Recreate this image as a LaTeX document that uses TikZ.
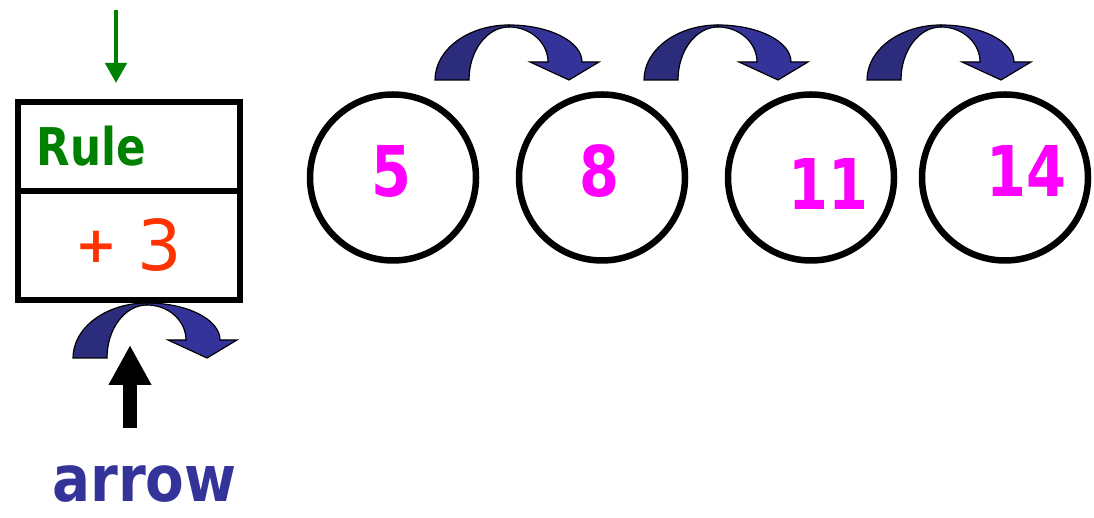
\documentclass[tikz,border=0pt]{standalone}
\usepackage{fontspec}
\setmainfont{DejaVu Sans}
\usetikzlibrary{arrows.meta,positioning}
\definecolor{rulegreen}{HTML}{008000}
\definecolor{stepred}{HTML}{FF3300}
\definecolor{termpink}{HTML}{FF00FF}
\definecolor{hopdark}{HTML}{2C2C7C}
\definecolor{hopblue}{HTML}{333399}

\tikzset{
  box/.style={draw, line width=6pt, outer sep=0pt, minimum width=222pt},
  term/.style={draw, circle, line width=6.5pt, minimum size=166pt, inner sep=0pt},
  num/.style={text=termpink, font=\fontsize{70}{74}\selectfont\bfseries, inner sep=0pt},
  hop/.pic={
    \filldraw[fill=hopdark, line width=1.2pt] (0,0)
      arc[start angle=180, end angle=90, x radius=74, y radius=55] -- (74,53)
      arc[start angle=90, end angle=180, x radius=40, y radius=53] -- cycle;
    \filldraw[fill=hopblue, line width=1.2pt] (74,55)
      arc[start angle=90, end angle=0, x radius=73, y radius=37]
      -- (164,18) -- (134,0) -- (95,18) -- (113,18)
      arc[start angle=0, end angle=90, x radius=39, y radius=35] -- cycle;
  }
}
\newcommand{\narrow}[1]{\scalebox{0.82}[1]{#1}}

\begin{document}
\begin{tikzpicture}[x=1pt, y=1pt]
  \useasboundingbox (0,0) rectangle (1094,518);

  % rule machine
  \node[box, minimum height=89pt, text width=185pt, inner xsep=18pt, align=left,
        text=rulegreen, font=\fontsize{52}{56}\selectfont\bfseries] (rule) at (129,371.5)
    {\scalebox{0.84}[1]{Rule}};
  \node[box, minimum height=109pt, below=0pt of rule, text=stepred,
        font=\fontsize{70}{74}\selectfont] (step)
    {\raisebox{8pt}{\fontsize{50}{54}\selectfont\bfseries +}\hspace{20pt}3};

  \coordinate (feed) at (116,508);
  \draw[rulegreen, line width=4.5pt, -{Triangle[length=20pt,width=21pt]}]
    (feed) -- ([yshift=19pt]rule.north -| feed);

  \pic at (73,160) {hop};
  \coordinate (aim) at (130,173);
  \node[text=hopblue, font=\fontsize{64}{68}\selectfont\bfseries, anchor=base, inner sep=2pt]
    (lbl) at (144.5,16) {\scalebox{0.88}[1]{arrow}};
  \draw[line width=14pt, -{Triangle[length=40pt,width=40pt]}]
    ([yshift=36pt]lbl.north -| aim) -- (aim);

  % sequence
  \node[term] (c1) at (393,340.5) {};
  \node[term] (c2) at (602,340.5) {};
  \node[term] (c3) at (811,340.5) {};
  \node[term] (c4) at (1005,340.5) {};

  \node[num] (n1) at ([shift={(-2,6)}]c1.center) {\narrow{5}};
  \node[num] (n2) at ([shift={(-3,6)}]c2.center) {\narrow{8}};
  \node[num] (n3) at ([shift={(17,-6)}]c3.center) {\narrow{11}};
  \node[num] (n4) at ([shift={(21,7)}]c4.center) {\narrow{14}};

  \pic at (435,438) {hop};
  \pic at (644,438) {hop};
  \pic at (867,438) {hop};
\end{tikzpicture}
\end{document}
